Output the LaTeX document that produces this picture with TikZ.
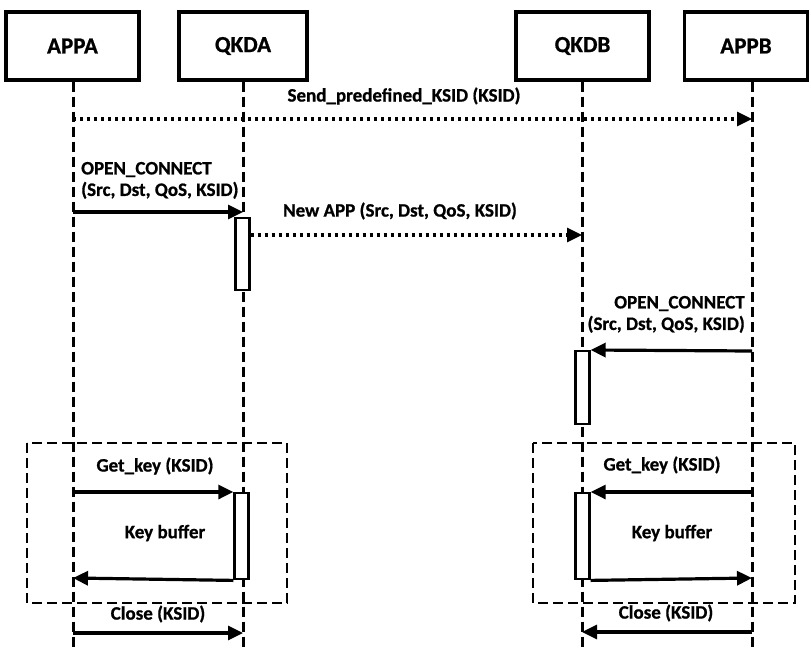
\documentclass[tikz,border=0pt]{standalone}
\usepackage{fontspec}
\setmainfont{Carlito}[BoldFeatures={FakeBold=0.8}]
\usetikzlibrary{arrows.meta}
\tikzset{
  head/.style={draw, line width=3.2pt, minimum height=68pt, inner sep=0pt, font=\fontsize{23}{27}\selectfont\bfseries},
  life/.style={line width=3pt, dash pattern=on 10pt off 5pt},
  msg/.style={line width=3.2pt, -{Triangle[length=15pt,width=14pt]}},
  dotmsg/.style={msg, dash pattern=on 3pt off 4pt},
  act/.style={draw, fill=white, line width=2.4pt, minimum width=14pt, inner sep=0pt, anchor=north},
  frame/.style={draw, line width=2.6pt, dash pattern=on 10pt off 5pt},
  lbl/.style={font=\fontsize{19}{21.5}\selectfont\bfseries, inner sep=0pt}
}
\begin{document}
\begin{tikzpicture}[x=1pt,y=-1pt]
\useasboundingbox (0,0) rectangle (811,648);

% participants
\node[head, minimum width=133pt] (appa) at (72.5,46) {APPA};
\node[head, minimum width=128pt] (qkda) at (243,46) {QKDA};
\node[head, minimum width=133pt] (qkdb) at (582.5,46) {QKDB};
\node[head, minimum width=123pt] (appb) at (746,46) {APPB};

% lifelines
\coordinate (appaEnd) at (73,648);
\coordinate (qkdaEnd) at (243,648);
\coordinate (qkdbEnd) at (582,648);
\coordinate (appbEnd) at (752,648);
\draw[life] (appa.south -| appaEnd) -- (appaEnd);
\draw[life] (qkda.south -| qkdaEnd) -- (qkdaEnd);
\draw[life] (qkdb.south -| qkdbEnd) -- (qkdbEnd);
\draw[life] (appb.south -| appbEnd) -- (appbEnd);

% grouping frames
\draw[frame] (27,443) rectangle (287,603);
\draw[frame] (533,443) rectangle (795,603);

% activation bars
\node[act, minimum height=72pt] (actA1) at (242.5,217) {};
\node[act, minimum height=73pt] (actB1) at (582.5,350) {};
\node[act, minimum height=86pt] (actA2) at (241.5,492) {};
\node[act, minimum height=86pt] (actB2) at (582.5,492) {};

% message end points
\coordinate (m1s) at (73,119);
\coordinate (m1e) at (752,119);
\coordinate (m2s) at (73,212);
\coordinate (m2e) at (243,212);
\coordinate (m3s) at (actA1.east |- 0,235);
\coordinate (m3e) at (582,235);
\coordinate (m4s) at (752,351);
\coordinate (m5s) at (73,492);
\coordinate (m6e) at (73,578);
\coordinate (m7s) at (752,492);
\coordinate (m8e) at (752,578);
\coordinate (m9s) at (73,633);
\coordinate (m9e) at (243,633);
\coordinate (m10s) at (752,632);
\coordinate (m10e) at (582,632);

% messages
\draw[dotmsg] (m1s) -- (m1e);
\draw[msg] (m2s) -- (m2e);
\draw[dotmsg] (m3s) -- (m3e);
\draw[msg] (m4s) -- (actB1.north east);
\draw[msg] (m5s) -- (actA2.north west);
\draw[msg] (actA2.south west) -- (m6e);
\draw[msg] (m7s) -- (actB2.north east);
\draw[msg] (actB2.south east) -- (m8e);
\draw[msg] (m9s) -- (m9e);
\draw[msg] (m10s) -- (m10e);

% labels
\node[lbl] (l1) at (404,96) {Send\_predefined\_KSID (KSID)};
\node[lbl, align=left, anchor=south west] (l2) at (81,199) {OPEN\_CONNECT\\(Src, Dst, QoS, KSID)};
\node[lbl] (l3) at (400,211) {New APP (Src, Dst, QoS, KSID)};
\node[lbl, align=right, anchor=south east] (l4) at (745,333) {OPEN\_CONNECT\\(Src, Dst, QoS, KSID)};
\node[lbl] (l5) at (155,466) {Get\_key (KSID)};
\node[lbl] (l6) at (165,533) {Key buffer};
\node[lbl] (l7) at (662,465) {Get\_key (KSID)};
\node[lbl] (l8) at (672,533) {Key buffer};
\node[lbl] (l9) at (158,614) {Close (KSID)};
\node[lbl] (l10) at (666,613) {Close (KSID)};
\end{tikzpicture}
\end{document}
